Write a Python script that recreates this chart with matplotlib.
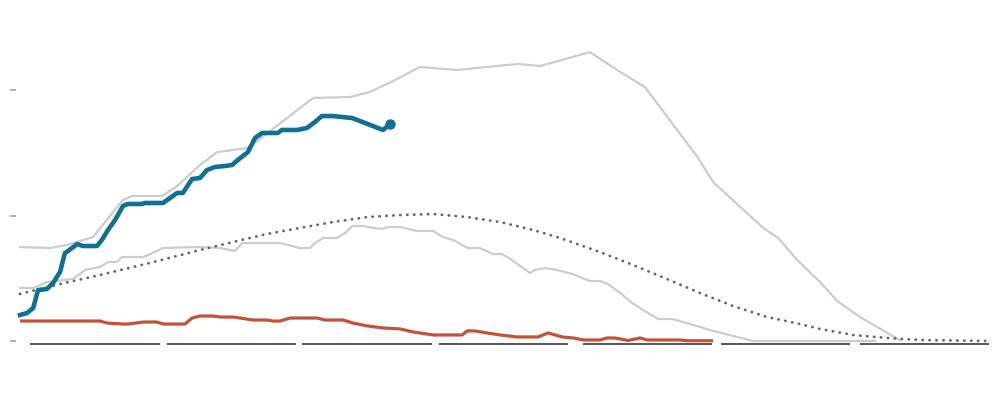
import numpy as np
import matplotlib
matplotlib.use("Agg")
import matplotlib.pyplot as plt

# day index since start, values (tick every 100)
blue_x = [0, 1.6, 3.0, 4.1, 6.1, 7.5, 9.1, 10.2, 10.9, 13.0, 14.3, 17.5, 18.6, 20.0, 21.6,
          23.4, 24.5, 27.7, 28.4, 32.5, 34.1, 35.7, 37.0, 38.2, 39.1, 40.9, 42.5, 44.3,
          46.6, 48.2, 49.5, 51.8, 53.4, 55.0, 58.6, 59.5, 63.0, 65.2, 67.0, 68.6, 71.1,
          75.5, 82.5, 84.1]
blue_y = [20.7, 22.3, 26.3, 40.6, 41.4, 46.2, 55.0, 70.1, 71.7, 77.3, 75.7, 75.7, 80.5, 88.5,
          96.4, 107.6, 109.2, 109.2, 110.0, 110.0, 114.0, 118.0, 118.0, 124.3, 129.1, 129.9,
          136.3, 138.7, 139.5, 140.3, 144.3, 150.6, 161.8, 165.8, 165.8, 168.2, 168.2,
          169.8, 174.5, 179.3, 179.3, 177.7, 168.2, 173.0]

peak_x = [0, 6.8, 10.7, 16.6, 23.4, 25.5, 32.3, 35.7, 40.9, 44.8, 51.8, 66.6, 75.0, 79.5,
          84.8, 90.9, 99.3, 113.0, 118.2, 129.5, 135.7, 142.0, 154.1, 157.5, 168.9, 172.3,
          176.6, 181.8, 185.7, 190.9, 200.0]
peak_y = [74.9, 74.1, 76.5, 82.9, 112.4, 115.6, 115.6, 123.5, 140.3, 150.6, 153.8, 193.7,
          194.5, 198.5, 207.2, 218.4, 216.0, 220.8, 219.2, 230.3, 216.0, 202.4, 145.9,
          126.7, 90.1, 82.1, 64.6, 47.0, 31.9, 19.1, 0.5]

mid_x = [0, 3.0, 6.1, 12.0, 14.8, 18.2, 20.0, 22.0, 23.2, 28.0, 31.1, 32.5, 40.9, 45.5, 47.7,
         48.9, 50.5, 56.1, 59.1, 63.6, 65.9, 67.0, 68.9, 72.0, 73.9, 75.5, 78.0, 80.2, 82.3,
         83.6, 86.4, 90.2, 93.9, 96.1, 98.4, 101.8, 104.5, 107.5, 109.5, 111.4, 115.9,
         117.0, 119.3, 122.0, 125.5, 129.5, 131.8, 133.6, 136.4, 139.1, 141.6, 145.0,
         148.2, 150.7, 154.5, 157.5, 162.0, 166.6, 194.3]
mid_y = [42.2, 42.2, 47.0, 49.4, 56.6, 59.0, 63.0, 63.0, 66.9, 66.9, 71.7, 74.1, 74.9, 74.1,
         72.5, 71.7, 78.1, 78.1, 78.1, 74.1, 74.1, 78.1, 82.1, 82.1, 86.1, 91.7, 91.7, 90.1,
         89.3, 90.9, 90.9, 87.7, 87.7, 82.9, 80.5, 74.1, 74.1, 69.3, 69.3, 65.4, 54.2, 56.6,
         58.2, 56.6, 53.4, 47.8, 47.8, 45.4, 38.3, 30.3, 24.7, 17.5, 17.5, 15.1, 11.2, 8.0,
         4.0, 0, 0]

model_x = [0, 9.1, 18.2, 29.5, 40.9, 48.4, 56.1, 63.6, 71.1, 78.9, 86.4, 93.9, 101.6, 109.1,
           116.6, 122.7, 131.8, 139.3, 147.0, 154.5, 162.0, 169.8, 177.3, 181.8, 189.3,
           197.0, 204.5, 219.8]
model_y = [37.5, 45.4, 52.6, 62.2, 72.5, 78.9, 85.3, 90.1, 94.8, 98.8, 100.4, 101.2, 98.8,
           94.8, 88.5, 82.1, 70.9, 60.6, 49.4, 38.3, 27.9, 19.1, 13.5, 9.6, 4.8, 2.4, 0.8, 0]

red_x = [0, 18.2, 19.8, 23.4, 24.5, 28.0, 31.1, 32.5, 37.5, 39.1, 40.9, 43.9, 45.5, 48.4,
         50.0, 53.0, 56.1, 57.5, 59.1, 61.4, 67.5, 69.3, 73.4, 75.7, 78.9, 82.5, 86.4, 89.3,
         93.9, 100.5, 101.6, 103.4, 106.1, 109.1, 113.0, 117.7, 120.0, 123.2, 125.7, 128.0,
         131.8, 133.4, 135.2, 138.2, 140.9, 142.5, 150.0, 151.6, 157.5]
red_y = [15.9, 15.9, 14.3, 13.5, 13.5, 15.1, 15.1, 13.5, 13.5, 18.3, 19.9, 19.9, 19.1, 19.1,
         18.3, 16.7, 16.7, 15.9, 15.9, 18.3, 18.3, 16.7, 16.7, 14.3, 12.0, 10.4, 9.6, 7.2,
         4.8, 4.8, 8.0, 8.0, 6.4, 4.8, 3.2, 3.2, 6.4, 3.2, 2.4, 0.8, 0.8, 2.4, 2.4, 0.4,
         2.4, 0.8, 0.8, 0.2, 0.2]

month_start = [2.3, 33.4, 64.1, 95.2, 128.0, 159.3, 190.9]
month_end = [31.8, 62.7, 93.6, 124.5, 157.3, 188.6, 220.2]
yticks = [0, 100, 200]

fig = plt.figure(figsize=(10, 4.16), dpi=100)
ax = fig.add_axes([0.016, 0, 0.984, 1])

ax.plot(peak_x, peak_y, color="#cccccc", lw=1.6, zorder=1)
ax.plot(mid_x, mid_y, color="#cccccc", lw=1.6, zorder=1)
ax.plot(model_x, model_y, color="#666666", lw=2.0, dashes=(0.1, 2.4),
        dash_capstyle="round", zorder=2)
ax.plot(red_x, red_y, color="#c0533a", lw=2.3, zorder=3, solid_capstyle="butt")
ax.plot(blue_x, blue_y, color="#0f7092", lw=3.3, zorder=4, solid_joinstyle="round")
ax.plot(blue_x[-1], blue_y[-1], "o", color="#0f7092", ms=6.5, zorder=5)

ax.hlines([-2.6] * len(month_start), month_start, month_end, color="#555555", lw=1.4)

ax.set_xlim(-0.91, 222.7)
ax.set_ylim(-59.8, 271.8)
ax.set_yticks(yticks)
ax.set_yticklabels([])
ax.set_xticks([])
ax.tick_params(axis="y", direction="out", length=4.3, width=1.1, color="#999999")
for s in ax.spines.values():
    s.set_visible(False)

fig.savefig("out.png", dpi=100)
